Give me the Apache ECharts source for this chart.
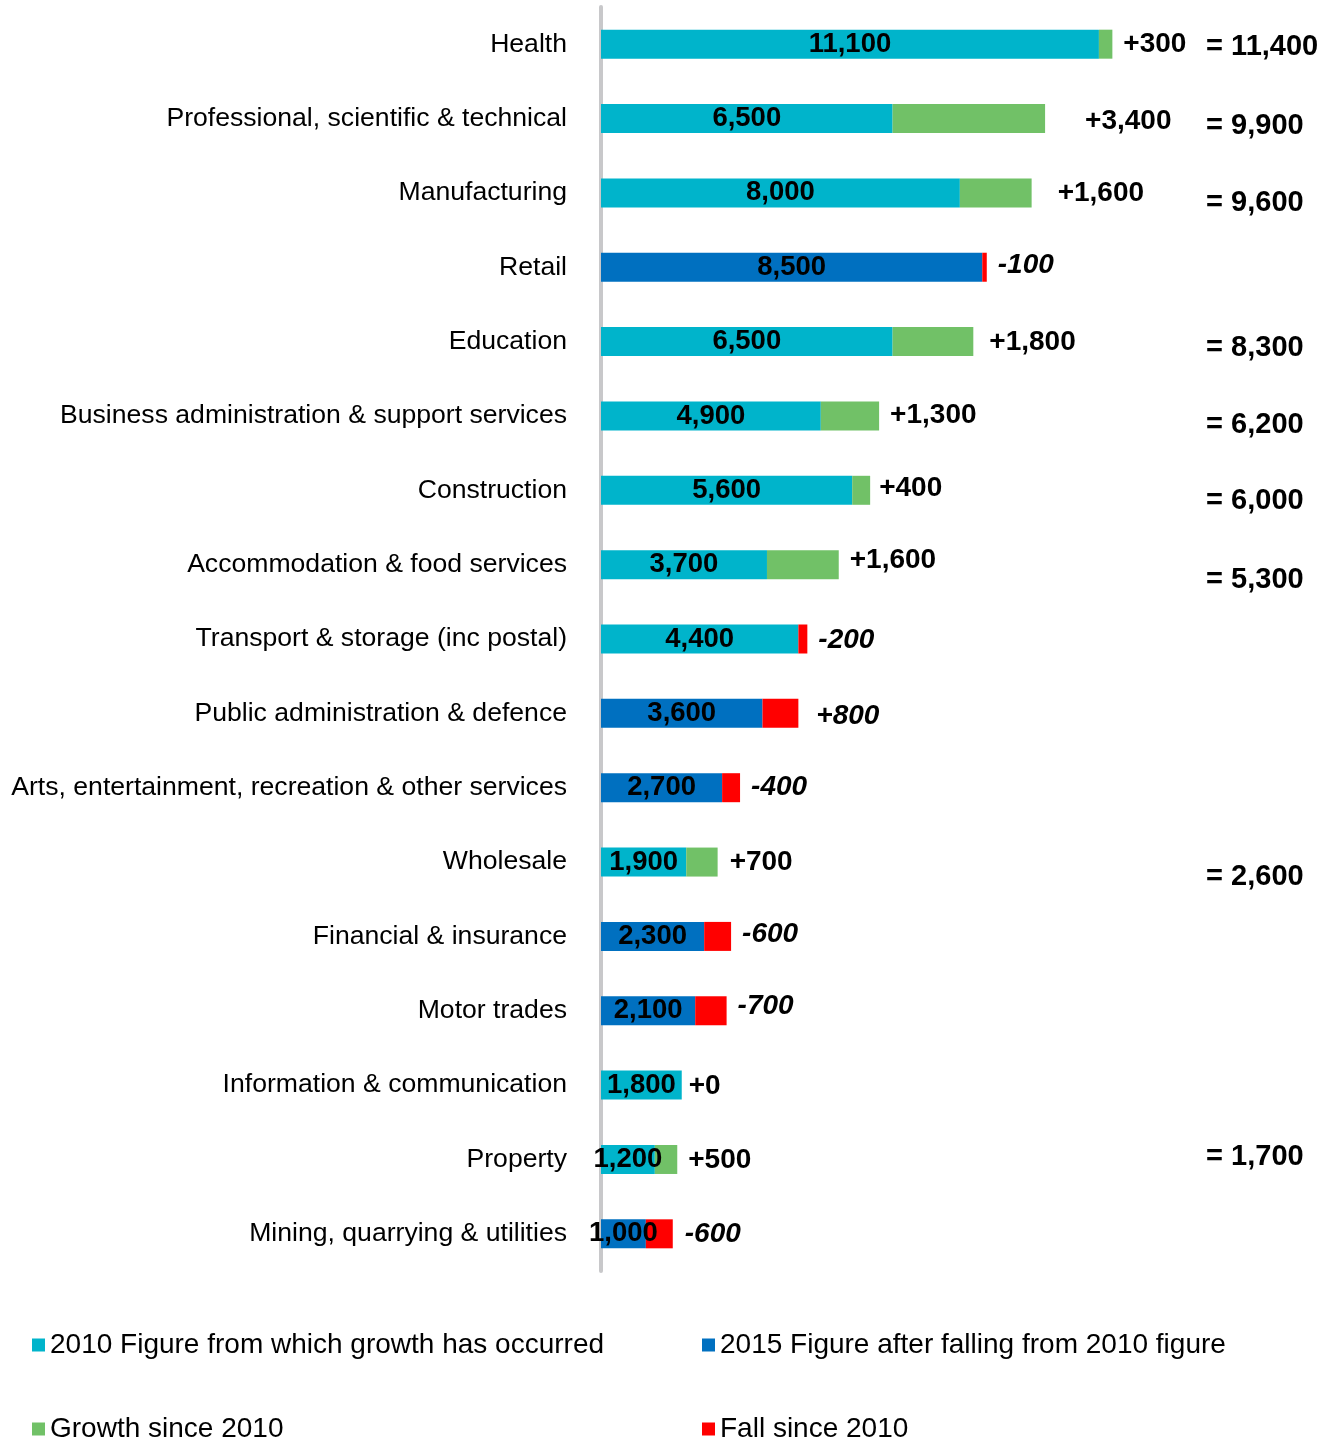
<!DOCTYPE html>
<html>
<head>
<meta charset="utf-8">
<script src="https://cdn.jsdelivr.net/npm/echarts@6/dist/echarts.min.js"></script>
<style>
html,body{margin:0;padding:0;background:#fff;}
#chart{width:1332px;height:1440px;}
</style>
</head>
<body>
<div id="chart"></div>
<script>
// ---- data ----
const categories = [
  'Health',
  'Professional, scientific & technical',
  'Manufacturing',
  'Retail',
  'Education',
  'Business administration & support services',
  'Construction',
  'Accommodation & food services',
  'Transport & storage (inc postal)',
  'Public administration & defence',
  'Arts, entertainment, recreation & other services',
  'Wholesale',
  'Financial & insurance',
  'Motor trades',
  'Information & communication',
  'Property',
  'Mining, quarrying & utilities'
];
const base2010 = [11100, 6500, 8000, null, 6500, 4900, 5600, 3700, 4400, null, null, 1900, null, null, 1800, 1200, null];
const base2015 = [null, null, null, 8500, null, null, null, null, null, 3600, 2700, null, 2300, 2100, null, null, 1000];
const growth   = [300, 3400, 1600, null, 1800, 1300, 400, 1600, null, null, null, 700, null, null, 0, 500, null];
const fall     = [null, null, null, 100, null, null, null, null, 200, 800, 400, null, 600, 700, null, null, 600];
const changeText = ['+300', '+3,400', '+1,600', '-100', '+1,800', '+1,300', '+400', '+1,600', '-200', '+800', '-400', '+700', '-600', '-700', '+0', '+500', '-600'];
const totalsShown = [11400, 9900, 9600, null, 8300, 6200, 6000, 5300, null, null, null, 2600, null, null, null, 1700, null];
const seriesNames = [
  '2010 Figure from which growth has occurred',
  '2015 Figure after falling from 2010 figure',
  'Growth since 2010',
  'Fall since 2010'
];

// ---- layout tweaks (label nudges, in px) ----
const changeDx = [0, 29, 15, 0, 5, 0, -2, 0, 0, 7, 0, 1, 0, 0, -4, 0, 1];
const changeDy = [0, 3, 0, -2, 1, -1, -2, -4, 1, 3, 0, 0, -2, -4, 1, 1, 0];
const totalDy  = [3, 7, 10, 0, 6, 9, 11, 15, 0, 0, 0, 15, 0, 0, 0, -2, 0];
const TOTAL_COLUMN = 13490; // x position of the "= total" column in axis units

const FONT = '"Liberation Sans", Arial, sans-serif';
const fmt = v => Number(v).toLocaleString('en-US');

function baseSeries(name, values, color) {
  return {
    name, type: 'bar', stack: 'a', barWidth: 29, data: values,
    itemStyle: { color },
    label: { show: true, position: 'inside', formatter: p => fmt(p.value),
      color: '#000', fontFamily: FONT, fontSize: 27.5, fontWeight: 'bold' }
  };
}
function changeSeries(name, values, color, italic) {
  return {
    name, type: 'bar', stack: 'a', barWidth: 29,
    data: values.map((v, i) => v == null ? null : { value: v, label: { offset: [changeDx[i], changeDy[i]] } }),
    itemStyle: { color },
    label: { show: true, position: 'right', distance: 11, formatter: p => changeText[p.dataIndex],
      color: '#000', fontFamily: FONT, fontSize: 28, fontWeight: 'bold', fontStyle: italic ? 'italic' : 'normal' }
  };
}

const chart = echarts.init(document.getElementById('chart'), null, { renderer: 'canvas' });
const legendCommon = { icon: 'rect', itemWidth: 13, itemHeight: 13, padding: 0, selectedMode: false,
  textStyle: { fontFamily: FONT, fontSize: 28, color: '#000', lineHeight: 32 } };

chart.setOption({
  animation: false,
  backgroundColor: '#fff',
  grid: { left: 601, top: 7, height: 1264, width: 628 },
  xAxis: { type: 'value', min: 0, max: 14000, show: false },
  yAxis: {
    type: 'category', data: categories, inverse: true, offset: 2,
    axisLine: { show: true, lineStyle: { color: '#C8C8CA', width: 4 } },
    axisTick: { show: false },
    axisLabel: { margin: 32, color: '#000', fontFamily: FONT, fontSize: 26.6 }
  },
  legend: [
    Object.assign({ left: 32, top: 1329, data: [seriesNames[0]] }, legendCommon),
    Object.assign({ left: 702, top: 1329, data: [seriesNames[1]] }, legendCommon),
    Object.assign({ left: 32, top: 1413, data: [seriesNames[2]] }, legendCommon),
    Object.assign({ left: 702, top: 1413, data: [seriesNames[3]] }, legendCommon)
  ],
  series: [
    baseSeries(seriesNames[0], base2010, '#00B4CB'),
    baseSeries(seriesNames[1], base2015, '#0070C0'),
    changeSeries(seriesNames[2], growth, '#71C167', false),
    changeSeries(seriesNames[3], fall, '#FF0000', true),
    {
      name: 'totals', type: 'custom', silent: true,
      data: totalsShown.map((t, i) => t == null ? null : [TOTAL_COLUMN, i, t]).filter(d => d),
      renderItem: (params, api) => {
        const idx = api.value(1);
        const p = api.coord([api.value(0), idx]);
        return {
          type: 'text', x: p[0], y: p[1] + totalDy[idx],
          style: { text: '= ' + fmt(api.value(2)), fill: '#000',
            font: 'bold 29px ' + FONT, textAlign: 'left', textVerticalAlign: 'middle' }
        };
      }
    }
  ]
});
</script>
</body>
</html>
